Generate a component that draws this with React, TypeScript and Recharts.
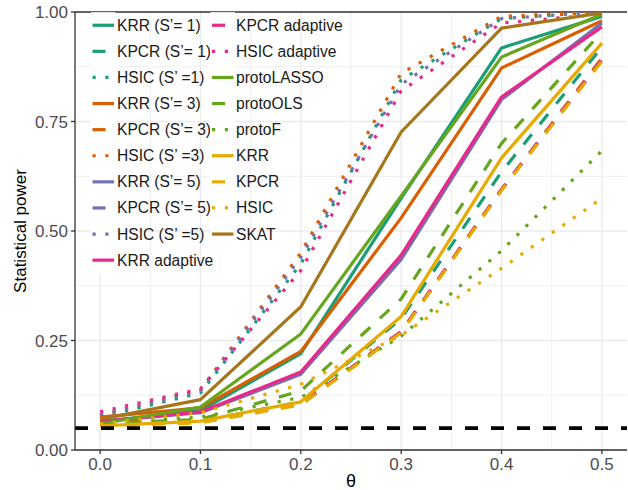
import React from "react";
import { LineChart, Line, XAxis, YAxis, CartesianGrid, ReferenceLine } from "recharts";

const thetas = [0, 0.1, 0.2, 0.3, 0.4, 0.5];
const xTicks = [0, 0.1, 0.2, 0.3, 0.4, 0.5];
const xMinor = [0.05, 0.15, 0.25, 0.35, 0.45];
const yTicks = [0, 0.25, 0.5, 0.75, 1];
const yMinor = [0.125, 0.375, 0.625, 0.875];
const alphaLevel = 0.05;

const krrS1 = [0.065, 0.09, 0.22, 0.575, 0.918, 0.99];
const kpcrS1 = [0.06, 0.066, 0.11, 0.3, 0.635, 0.92];
const hsicS1 = [0.075, 0.13, 0.425, 0.845, 0.985, 1.0];
const krrS3 = [0.075, 0.096, 0.225, 0.53, 0.872, 0.98];
const kpcrS3 = [0.065, 0.065, 0.105, 0.27, 0.595, 0.895];
const hsicS3 = [0.08, 0.137, 0.45, 0.86, 0.99, 1.0];
const krrS5 = [0.065, 0.085, 0.173, 0.435, 0.8, 0.975];
const kpcrS5 = [0.06, 0.065, 0.105, 0.27, 0.595, 0.89];
const hsicS5 = [0.08, 0.135, 0.44, 0.835, 0.985, 1.0];
const krrAdaptive = [0.065, 0.087, 0.178, 0.445, 0.806, 0.966];
const kpcrAdaptive = [0.06, 0.065, 0.105, 0.27, 0.595, 0.89];
const hsicAdaptive = [0.087, 0.14, 0.41, 0.82, 0.975, 0.995];
const protoLASSO = [0.06, 0.098, 0.265, 0.58, 0.897, 0.995];
const protoOLS = [0.06, 0.07, 0.135, 0.345, 0.7, 0.955];
const protoF = [0.06, 0.075, 0.12, 0.26, 0.455, 0.683];
const krrPlain = [0.055, 0.066, 0.11, 0.305, 0.667, 0.929];
const kpcrPlain = [0.055, 0.062, 0.103, 0.268, 0.593, 0.888];
const hsicPlain = [0.06, 0.085, 0.15, 0.262, 0.415, 0.575];
const skat = [0.07, 0.115, 0.327, 0.726, 0.963, 0.998];

const TEAL = "#1B9E77";
const ORANGE = "#D95F02";
const PURPLE = "#7570B3";
const PINK = "#E7298A";
const GREEN = "#66A61E";
const YELLOW = "#E6AB02";
const BROWN = "#A6761D";

const SOLID: string | undefined = undefined;
const DASHED = "13 13";
const DOTTED = "3.2 9.6";

type S = { key: string; name: string; color: string; dash?: string; values: number[] };

const series: S[] = [
  { key: "krrS1", name: "KRR (S\u2019= 1)", color: TEAL, dash: SOLID, values: krrS1 },
  { key: "kpcrS1", name: "KPCR (S\u2019= 1)", color: TEAL, dash: DASHED, values: kpcrS1 },
  { key: "hsicS1", name: "HSIC (S\u2019 =1)", color: TEAL, dash: DOTTED, values: hsicS1 },
  { key: "krrS3", name: "KRR (S\u2019= 3)", color: ORANGE, dash: SOLID, values: krrS3 },
  { key: "kpcrS3", name: "KPCR (S\u2019= 3)", color: ORANGE, dash: DASHED, values: kpcrS3 },
  { key: "hsicS3", name: "HSIC (S\u2019 =3)", color: ORANGE, dash: DOTTED, values: hsicS3 },
  { key: "krrS5", name: "KRR (S\u2019= 5)", color: PURPLE, dash: SOLID, values: krrS5 },
  { key: "kpcrS5", name: "KPCR (S\u2019= 5)", color: PURPLE, dash: DASHED, values: kpcrS5 },
  { key: "hsicS5", name: "HSIC (S\u2019 =5)", color: PURPLE, dash: DOTTED, values: hsicS5 },
  { key: "krrAd", name: "KRR adaptive", color: PINK, dash: SOLID, values: krrAdaptive },
  { key: "kpcrAd", name: "KPCR adaptive", color: PINK, dash: DASHED, values: kpcrAdaptive },
  { key: "hsicAd", name: "HSIC adaptive", color: PINK, dash: DOTTED, values: hsicAdaptive },
  { key: "pLASSO", name: "protoLASSO", color: GREEN, dash: SOLID, values: protoLASSO },
  { key: "pOLS", name: "protoOLS", color: GREEN, dash: DASHED, values: protoOLS },
  { key: "pF", name: "protoF", color: GREEN, dash: DOTTED, values: protoF },
  { key: "krr", name: "KRR", color: YELLOW, dash: SOLID, values: krrPlain },
  { key: "kpcr", name: "KPCR", color: YELLOW, dash: DASHED, values: kpcrPlain },
  { key: "hsic", name: "HSIC", color: YELLOW, dash: DOTTED, values: hsicPlain },
  { key: "skat", name: "SKAT", color: BROWN, dash: SOLID, values: skat },
];

const rows = thetas.map((t, i) => {
  const r: Record<string, number> = { theta: t };
  series.forEach((s) => (r[s.key] = s.values[i]));
  return r;
});

const FONT = "'Liberation Sans', Arial, Helvetica, sans-serif";
const X_DOMAIN: [number, number] = [-0.025, 0.525];
const Y_DOMAIN: [number, number] = [0, 1];

function makeVGen(values: number[]) {
  return (p: any) => {
    const sc = p?.xAxis?.scale;
    if (sc && typeof sc === "function") return values.map((v) => sc(v));
    const off = p.offset;
    return values.map((v) => off.left + ((v - X_DOMAIN[0]) / (X_DOMAIN[1] - X_DOMAIN[0])) * off.width);
  };
}
function makeHGen(values: number[]) {
  return (p: any) => {
    const sc = p?.yAxis?.scale;
    if (sc && typeof sc === "function") return values.map((v) => sc(v));
    const off = p.offset;
    return values.map((v) => off.top + off.height - ((v - Y_DOMAIN[0]) / (Y_DOMAIN[1] - Y_DOMAIN[0])) * off.height);
  };
}

const LegendOverlay = () => {
  const rowH = 26.1;
  const top0 = 12.2;
  const perCol = 10;
  const cols = [
    { box: 91, lineA: 92.5, lineB: 114, text: 117 },
    { box: 210.5, lineA: 212, lineB: 233.5, text: 236 },
  ];
  return (
    <svg width={628} height={490} style={{ position: "absolute", left: 0, top: 0, pointerEvents: "none" }}>
      {series.map((s, i) => {
        const c = cols[Math.floor(i / perCol)];
        const r = i % perCol;
        const cy = top0 + rowH * r + rowH / 2;
        return (
          <g key={s.key}>
            <rect x={c.box} y={top0 + rowH * r} width={24.5} height={rowH + 0.3} fill="#ffffff" />
            <line x1={c.lineA} x2={c.lineB} y1={cy} y2={cy} stroke={s.color} strokeWidth={3.2}
              strokeDasharray={s.dash} strokeLinecap="butt" />
            <text x={c.text} y={cy} dominantBaseline="central" fontFamily={FONT} fontSize={15.6} fill="#1a1a1a">
              {s.name}
            </text>
          </g>
        );
      })}
    </svg>
  );
};

export default function App() {
  return (
    <div style={{ position: "absolute", left: 0, top: 0, width: 628, height: 490, background: "#fff" }}>
      <LineChart width={628} height={490} data={rows} margin={{ top: 12, right: 1, bottom: 0, left: 0 }}>
        <CartesianGrid stroke="#EBEBEB" strokeWidth={0.8} verticalCoordinatesGenerator={makeVGen(xMinor)}
          horizontalCoordinatesGenerator={makeHGen(yMinor)} />
        <CartesianGrid stroke="#EBEBEB" strokeWidth={1.4} verticalCoordinatesGenerator={makeVGen(xTicks)}
          horizontalCoordinatesGenerator={makeHGen(yTicks)} />
        <XAxis dataKey="theta" type="number" domain={X_DOMAIN} ticks={xTicks} allowDataOverflow
          tickFormatter={(v: number) => v.toFixed(1)} height={40} tickSize={4} tickMargin={4}
          axisLine={{ stroke: "#333333", strokeWidth: 1.3 }} tickLine={{ stroke: "#333333", strokeWidth: 1.3 }}
          tick={{ fill: "#4D4D4D", fontSize: 17, fontFamily: FONT }}
          label={(props: any) => {
            const vb = props.viewBox || { x: 75, y: 450, width: 552 };
            return (
              <text x={vb.x + vb.width / 2} y={vb.y + 37} textAnchor="middle"
                fontFamily={FONT} fontSize={18} fill="#000">θ</text>
            );
          }} />
        <YAxis type="number" domain={Y_DOMAIN} ticks={yTicks} allowDataOverflow width={75}
          tickFormatter={(v: number) => v.toFixed(2)} tickSize={4} tickMargin={3}
          axisLine={{ stroke: "#333333", strokeWidth: 1.3 }} tickLine={{ stroke: "#333333", strokeWidth: 1.3 }}
          tick={{ fill: "#4D4D4D", fontSize: 17, fontFamily: FONT }}
          label={(props: any) => {
            const vb = props.viewBox || { x: 0, y: 12, height: 438 };
            const cx = 20;
            const cy = vb.y + vb.height / 2;
            return (
              <text x={cx} y={cy} transform={`rotate(-90 ${cx} ${cy})`} textAnchor="middle" dominantBaseline="central"
                fontFamily={FONT} fontSize={17} fill="#000">Statistical power</text>
            );
          }} />
        <ReferenceLine y={1} stroke="#333333" strokeWidth={1.3} />
        {series.map((s) => (
          <Line key={s.key} type="linear" dataKey={s.key} name={s.name} stroke={s.color} strokeWidth={3.2}
            strokeDasharray={s.dash} strokeLinecap="butt" strokeLinejoin="round" dot={false} activeDot={false}
            isAnimationActive={false} />
        ))}
        <ReferenceLine y={alphaLevel} stroke="#000000" strokeWidth={3.6} strokeDasharray="13 13" />
      </LineChart>
      <LegendOverlay />
    </div>
  );
}
